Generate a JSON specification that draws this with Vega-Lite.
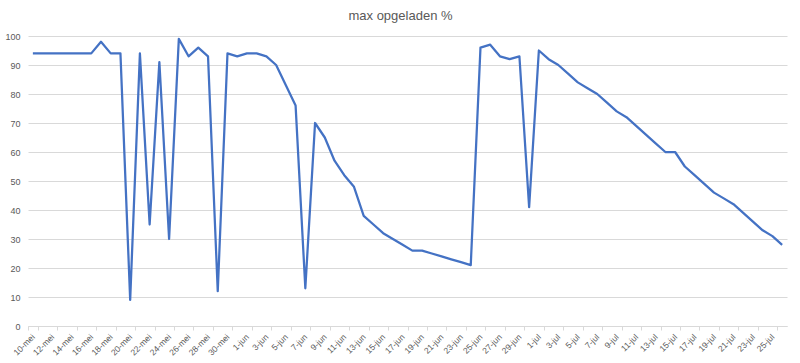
{
  "$schema": "https://vega.github.io/schema/vega-lite/v6.json",
  "width": 759,
  "height": 290,
  "autosize": {"type": "none"},
  "padding": {"left": 28, "top": 36, "right": 13, "bottom": 37},
  "background": "white",
  "title": {
    "text": "max opgeladen %",
    "fontSize": 13,
    "font": "Liberation Sans",
    "fontWeight": "normal",
    "color": "#595959",
    "anchor": "middle",
    "dx": -7,
    "offset": 9
  },
  "data": {
    "values": [
      {"datum": "10-mei", "pct": 94}, {"datum": "11-mei", "pct": 94}, {"datum": "12-mei", "pct": 94},
      {"datum": "13-mei", "pct": 94}, {"datum": "14-mei", "pct": 94}, {"datum": "15-mei", "pct": 94},
      {"datum": "16-mei", "pct": 94}, {"datum": "17-mei", "pct": 98}, {"datum": "18-mei", "pct": 94},
      {"datum": "19-mei", "pct": 94}, {"datum": "20-mei", "pct": 9}, {"datum": "21-mei", "pct": 94},
      {"datum": "22-mei", "pct": 35}, {"datum": "23-mei", "pct": 91}, {"datum": "24-mei", "pct": 30},
      {"datum": "25-mei", "pct": 99}, {"datum": "26-mei", "pct": 93}, {"datum": "27-mei", "pct": 96},
      {"datum": "28-mei", "pct": 93}, {"datum": "29-mei", "pct": 12}, {"datum": "30-mei", "pct": 94},
      {"datum": "31-mei", "pct": 93}, {"datum": "1-jun", "pct": 94}, {"datum": "2-jun", "pct": 94},
      {"datum": "3-jun", "pct": 93}, {"datum": "4-jun", "pct": 90}, {"datum": "5-jun", "pct": 83},
      {"datum": "6-jun", "pct": 76}, {"datum": "7-jun", "pct": 13}, {"datum": "8-jun", "pct": 70},
      {"datum": "9-jun", "pct": 65}, {"datum": "10-jun", "pct": 57}, {"datum": "11-jun", "pct": 52},
      {"datum": "12-jun", "pct": 48}, {"datum": "13-jun", "pct": 38}, {"datum": "14-jun", "pct": 35},
      {"datum": "15-jun", "pct": 32}, {"datum": "16-jun", "pct": 30}, {"datum": "17-jun", "pct": 28},
      {"datum": "18-jun", "pct": 26}, {"datum": "19-jun", "pct": 26}, {"datum": "20-jun", "pct": 25},
      {"datum": "21-jun", "pct": 24}, {"datum": "22-jun", "pct": 23}, {"datum": "23-jun", "pct": 22},
      {"datum": "24-jun", "pct": 21}, {"datum": "25-jun", "pct": 96}, {"datum": "26-jun", "pct": 97},
      {"datum": "27-jun", "pct": 93}, {"datum": "28-jun", "pct": 92}, {"datum": "29-jun", "pct": 93},
      {"datum": "30-jun", "pct": 41}, {"datum": "1-jul", "pct": 95}, {"datum": "2-jul", "pct": 92},
      {"datum": "3-jul", "pct": 90}, {"datum": "4-jul", "pct": 87}, {"datum": "5-jul", "pct": 84},
      {"datum": "6-jul", "pct": 82}, {"datum": "7-jul", "pct": 80}, {"datum": "8-jul", "pct": 77},
      {"datum": "9-jul", "pct": 74}, {"datum": "10-jul", "pct": 72}, {"datum": "11-jul", "pct": 69},
      {"datum": "12-jul", "pct": 66}, {"datum": "13-jul", "pct": 63}, {"datum": "14-jul", "pct": 60},
      {"datum": "15-jul", "pct": 60}, {"datum": "16-jul", "pct": 55}, {"datum": "17-jul", "pct": 52},
      {"datum": "18-jul", "pct": 49}, {"datum": "19-jul", "pct": 46}, {"datum": "20-jul", "pct": 44},
      {"datum": "21-jul", "pct": 42}, {"datum": "22-jul", "pct": 39}, {"datum": "23-jul", "pct": 36},
      {"datum": "24-jul", "pct": 33}, {"datum": "25-jul", "pct": 31}, {"datum": "26-jul", "pct": 28}
    ]
  },
  "mark": {"type": "line", "color": "#4472C4", "strokeWidth": 2.25, "strokeJoin": "round"},
  "encoding": {
    "x": {
      "field": "datum",
      "type": "ordinal",
      "sort": null,
      "bandPosition": 0.5,
      "scale": {"type": "band", "paddingInner": 0, "paddingOuter": 0},
      "axis": {
        "title": null,
        "values": ["10-mei", "12-mei", "14-mei", "16-mei", "18-mei", "20-mei", "22-mei", "24-mei", "26-mei", "28-mei", "30-mei",
                   "1-jun", "3-jun", "5-jun", "7-jun", "9-jun", "11-jun", "13-jun", "15-jun", "17-jun", "19-jun", "21-jun", "23-jun", "25-jun", "27-jun", "29-jun",
                   "1-jul", "3-jul", "5-jul", "7-jul", "9-jul", "11-jul", "13-jul", "15-jul", "17-jul", "19-jul", "21-jul", "23-jul", "25-jul"],
        "tickBand": "extent",
        "labelAngle": -45,
        "labelAlign": "right",
        "labelBaseline": "middle",
        "labelFont": "Liberation Sans",
        "labelFontSize": 8.5,
        "labelColor": "#595959",
        "labelPadding": 5,
        "domainColor": "#d9d9d9",
        "tickColor": "#d9d9d9",
        "tickSize": 4,
        "grid": false
      }
    },
    "y": {
      "field": "pct",
      "type": "quantitative",
      "scale": {"domain": [0, 100], "nice": false},
      "axis": {
        "title": null,
        "values": [0, 10, 20, 30, 40, 50, 60, 70, 80, 90, 100],
        "domain": false,
        "ticks": false,
        "grid": true,
        "gridColor": "#d9d9d9",
        "gridWidth": 1,
        "labelFont": "Liberation Sans",
        "labelFontSize": 9,
        "labelColor": "#595959",
        "labelPadding": 8
      }
    }
  },
  "config": {"view": {"stroke": null}}
}
